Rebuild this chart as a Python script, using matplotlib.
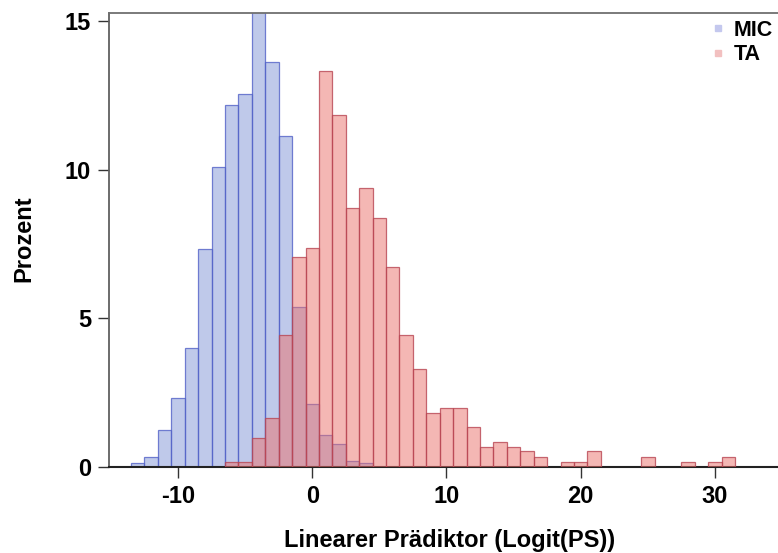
import matplotlib
matplotlib.use("Agg")
import matplotlib.pyplot as plt
from matplotlib.lines import Line2D
import numpy as np

# Bin centres (bin width 1) and percentages per group
mic_centers = [-13, -12, -11, -10, -9, -8, -7, -6, -5, -4, -3, -2, -1, 0, 1, 2, 3, 4]
mic_pct = [0.16, 0.36, 1.24, 2.33, 4.0, 7.32, 10.1, 12.17, 12.53, 15.3, 13.62,
           11.13, 5.39, 2.12, 1.08, 0.77, 0.2, 0.15]

ta_centers = [-6, -5, -4, -3, -2, -1, 0, 1, 2, 3, 4, 5, 6, 7, 8, 9, 10, 11, 12,
              13, 14, 15, 16, 17, 19, 20, 21, 25, 28, 30, 31]
ta_pct = [0.17, 0.17, 1.0, 1.65, 4.44, 7.07, 7.38, 13.31, 11.82, 8.71, 9.37, 8.39,
          6.74, 4.44, 3.3, 1.83, 1.98, 1.99, 1.35, 0.68, 0.85, 0.68, 0.54, 0.35,
          0.19, 0.19, 0.54, 0.35, 0.19, 0.19, 0.35]

x_ticks = [-10, 0, 10, 20, 30]
y_ticks = [0, 5, 10, 15]
labels = ["MIC", "TA"]

plt.rcParams['font.family'] = ['Liberation Sans', 'DejaVu Sans']
plt.rcParams['font.weight'] = 'bold'
plt.rcParams['axes.unicode_minus'] = False

fig = plt.figure(figsize=(7.78, 5.53), dpi=100)
ax = fig.add_axes([109.3 / 778, 1 - 467.3 / 553, 1 - 109.3 / 778, (467.3 - 12.5) / 553])

ax.bar(mic_centers, mic_pct, width=1.0, align='center',
       facecolor=(0.50, 0.58, 0.84, 0.5), edgecolor=(0.32, 0.38, 0.78, 0.8),
       linewidth=0.9, zorder=2)
ax.bar(ta_centers, ta_pct, width=1.0, align='center',
       facecolor=(0.92, 0.44, 0.42, 0.5), edgecolor=(0.72, 0.27, 0.32, 0.8),
       linewidth=0.9, zorder=3)

ax.set_xlim(-15.12, 34.7)
ax.set_ylim(0, 15.28)
ax.set_xticks(x_ticks)
ax.set_yticks(y_ticks)
ax.tick_params(axis='both', direction='out', length=8, width=1.0, color='#333333',
               labelsize=17, pad=5)
for lab in ax.get_xticklabels() + ax.get_yticklabels():
    lab.set_fontweight('bold')

ax.spines['right'].set_visible(False)
ax.spines['top'].set_color('#707070')
ax.spines['top'].set_linewidth(1.3)
ax.spines['left'].set_color('#606060')
ax.spines['left'].set_linewidth(1.3)
ax.spines['bottom'].set_color('#222222')
ax.spines['bottom'].set_linewidth(1.5)

fig.text(450 / 778, 1 - 540 / 553, "Linearer Prädiktor (Logit(PS))", ha='center',
         va='center', fontsize=17, fontweight='bold')
fig.text(23.5 / 778, 1 - 239 / 553, "Prozent", ha='center', va='center',
         rotation=90, fontsize=17, fontweight='bold')

handles = [Line2D([], [], marker='s', linestyle='none', markersize=5,
                  markerfacecolor='#c4c8ee', markeredgecolor='#c4c8ee'),
           Line2D([], [], marker='s', linestyle='none', markersize=5,
                  markerfacecolor='#f2c0c0', markeredgecolor='#f2c0c0')]
leg = fig.legend(handles, labels, loc='upper right', bbox_to_anchor=(0.993, 1 - 20 / 553),
                 frameon=False, handlelength=0.5, handletextpad=0.45,
                 labelspacing=0.15, borderaxespad=0, borderpad=0.0,
                 prop={'weight': 'bold', 'size': 15.5})

fig.savefig("out.png", dpi=100)
